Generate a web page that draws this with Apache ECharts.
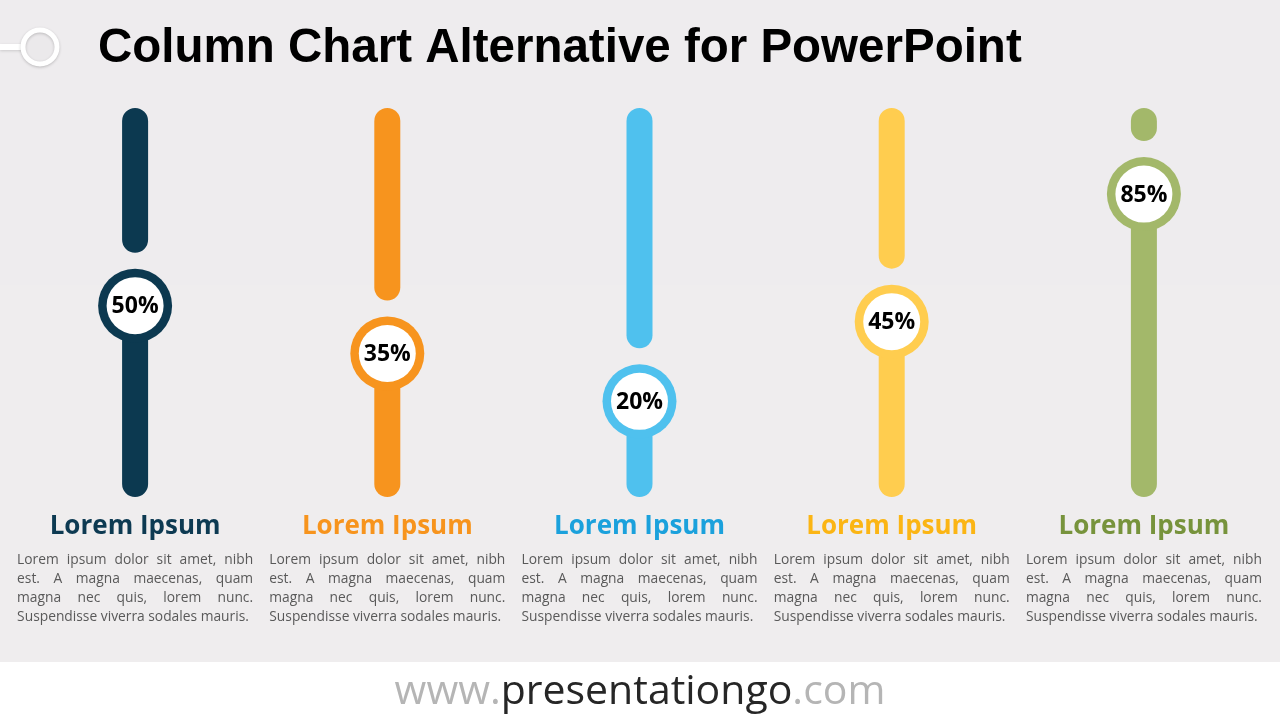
<!DOCTYPE html>
<html>
<head>
<meta charset="utf-8">
<script src="https://cdn.jsdelivr.net/npm/echarts@6/dist/echarts.min.js"></script>
<style>
html,body{margin:0;padding:0;background:#efedee;}
#c{width:1280px;height:720px;}
</style>
</head>
<body>
<div id="c"></div>
<script>
// ---- data ----
const titleText = 'Column Chart Alternative for PowerPoint';
const categories = ['Lorem Ipsum', 'Lorem Ipsum', 'Lorem Ipsum', 'Lorem Ipsum', 'Lorem Ipsum'];
const values = [50, 35, 20, 45, 85];
const barColors = ['#0c3950', '#f7941e', '#4fc1ee', '#ffcd4f', '#a3b86a'];
const labelColors = ['#0d3a52', '#f7941d', '#1ba1dc', '#fbb514', '#77933c'];
const bodyLines = [
  'Lorem ipsum dolor sit amet, nibh',
  'est. A magna maecenas, quam',
  'magna nec quis, lorem nunc.',
  'Suspendisse viverra sodales mauris.'
];
const yMin = -10, yMax = 112;

const chart = echarts.init(document.getElementById('c'), null, {renderer: 'canvas'});

function renderItem(params, api) {
  const i = api.value(0);
  const v = api.value(1);
  const c = api.coord([i, v]);
  const top = api.coord([i, yMax]);
  const bot = api.coord([i, yMin]);
  const w = 26, r = 37, ring = 8.5, gap = 16;
  const color = barColors[params.dataIndex];
  const children = [];
  const upEnd = c[1] - r - gap;
  if (upEnd - top[1] > 0) {
    children.push({type: 'rect', shape: {x: c[0] - w / 2, y: top[1], width: w, height: upEnd - top[1], r: w / 2}, style: {fill: color}});
  }
  children.push({type: 'rect', shape: {x: c[0] - w / 2, y: c[1], width: w, height: bot[1] - c[1], r: [0, 0, w / 2, w / 2]}, style: {fill: color}});
  children.push({type: 'circle', shape: {cx: c[0], cy: c[1], r: r}, style: {fill: color}});
  children.push({type: 'circle', shape: {cx: c[0], cy: c[1], r: r - ring}, style: {fill: '#ffffff'}});
  children.push({type: 'text', x: c[0], y: c[1] + 1, style: {text: v + '%', fill: '#000000', font: 'bold 23px "Open Sans"', align: 'center', verticalAlign: 'middle'}});
  return {type: 'group', children: children};
}

chart.setOption({
  backgroundColor: '#efedee',
  animation: false,
  grid: {left: 9, right: 10, top: 108, bottom: 223},
  xAxis: {
    type: 'category',
    data: categories,
    axisLine: {show: false},
    axisTick: {show: false},
    splitLine: {show: false},
    axisLabel: {
      margin: 13,
      fontSize: 26,
      lineHeight: 34,
      fontWeight: 'bold',
      fontFamily: 'Open Sans',
      interval: 0,
      color: function (val, idx) { return labelColors[idx]; }
    }
  },
  yAxis: {type: 'value', min: yMin, max: yMax, show: false, splitLine: {show: false}},
  series: [{
    type: 'custom',
    renderItem: renderItem,
    clip: false,
    data: values.map((v, i) => [i, v]),
    z: 5
  }]
});

// ---- graphics: title, icon, body text, footer ----
const cnv = document.createElement('canvas');
const ctx = cnv.getContext('2d');
const bodyFont = '13.8px "Open Sans"';
ctx.font = bodyFont;
const blockW = 236;
const graphics = [];

// subtle top band
graphics.push({type: 'rect', z: -10, shape: {x: 0, y: 0, width: 1280, height: 285}, style: {fill: '#eeecee'}});
// footer band
graphics.push({type: 'rect', z: 0, shape: {x: 0, y: 662, width: 1280, height: 58}, style: {fill: '#ffffff'}});
graphics.push({type: 'text', z: 1, x: 640, y: 692, style: {
  text: '{a|www.}{b|presentationgo}{a|.com}', align: 'center', verticalAlign: 'middle',
  rich: {
    a: {fontSize: 41, fontFamily: 'Open Sans', fill: '#b5b5b5'},
    b: {fontSize: 41, fontFamily: 'Open Sans', fill: '#262626'}
  }
}});
// title
graphics.push({type: 'text', x: 98, y: 49, style: {text: titleText, font: 'bold 47.5px "Liberation Sans"', fill: '#000000', align: 'left', verticalAlign: 'middle'}});
// icon
graphics.push({type: 'line', shape: {x1: 0, y1: 47, x2: 24, y2: 47}, style: {stroke: '#ffffff', lineWidth: 6, shadowBlur: 3, shadowColor: 'rgba(0,0,0,0.15)', shadowOffsetY: 1}});
graphics.push({type: 'circle', shape: {cx: 40, cy: 47, r: 17}, style: {fill: '#ebe9eb', stroke: '#ffffff', lineWidth: 5, shadowBlur: 3, shadowColor: 'rgba(0,0,0,0.2)', shadowOffsetY: 1}});

values.forEach(function (v, i) {
  const cx = chart.convertToPixel({xAxisIndex: 0}, i);
  const x0 = cx - blockW / 2;
  bodyLines.forEach(function (line, li) {
    const y = 560 + li * 19;
    const words = line.split(' ');
    if (li === bodyLines.length - 1) {
      graphics.push({type: 'text', x: x0, y: y, style: {text: line, font: bodyFont, fill: '#595959', align: 'left', verticalAlign: 'middle'}});
    } else {
      const widths = words.map(w => ctx.measureText(w).width);
      const total = widths.reduce((a, b) => a + b, 0);
      const gapW = (blockW - total) / (words.length - 1);
      let x = x0;
      words.forEach(function (w, wi) {
        graphics.push({type: 'text', x: x, y: y, style: {text: w, font: bodyFont, fill: '#595959', align: 'left', verticalAlign: 'middle'}});
        x += widths[wi] + gapW;
      });
    }
  });
});

chart.setOption({graphic: graphics});
</script>
</body>
</html>
